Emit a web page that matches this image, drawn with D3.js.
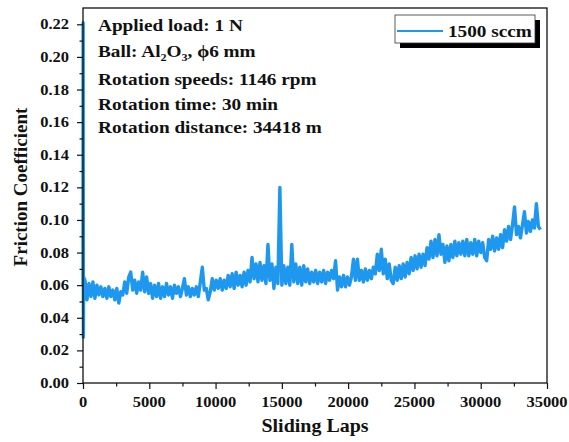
<!DOCTYPE html>
<html><head><meta charset="utf-8">
<script src="https://cdn.jsdelivr.net/npm/d3@7"></script>
<style>body{margin:0;background:#fff}svg{display:block}text{font-family:"Liberation Serif","Times New Roman",serif;font-weight:bold;fill:#111}</style>
</head><body>
<svg id="c" width="569" height="442"></svg>
<script>
const laps = [0,10,30,50,
150,300,450,600,750,900,1050,1200,1350,1500,
1650,1800,1950,2100,2250,2400,2550,2700,2850,3000,
3150,3300,3450,3600,3750,3900,4050,4200,4350,4500,
4650,4800,4950,5100,5250,5400,5550,5700,5850,6000,
6150,6300,6450,6600,6750,6900,7050,7200,7350,7500,
7650,7800,7950,8100,8250,8400,8550,8700,8850,9000,
9150,9300,9450,9600,9750,9900,10050,10200,10350,10500,
10650,10800,10950,11100,11250,11400,11550,11700,11850,12000,
12150,12300,12450,12600,12750,12900,13050,13200,13350,13500,
13650,13800,13950,14100,14250,14400,14550,14700,14850,15000,
15150,15300,15450,15600,15750,15900,16050,16200,16350,16500,
16650,16800,16950,17100,17250,17400,17550,17700,17850,18000,
18150,18300,18450,18600,18750,18900,19050,19200,19350,19500,
19650,19800,19950,20100,20250,20400,20550,20700,20850,21000,
21150,21300,21450,21600,21750,21900,22050,22200,22350,22500,
22650,22800,22950,23100,23250,23400,23550,23700,23850,24000,
24150,24300,24450,24600,24750,24900,25050,25200,25350,25500,
25650,25800,25950,26100,26250,26400,26550,26700,26850,27000,
27150,27300,27450,27600,27750,27900,28050,28200,28350,28500,
28650,28800,28950,29100,29250,29400,29550,29700,29850,30000,
30150,30300,30450,30600,30750,30900,31050,31200,31350,31500,
31650,31800,31950,32100,32250,32400,32550,32700,32850,33000,
33150,33300,33450,33600,33750,33900,34050,34200,34350,34500];
const cof = [0.060,0.221,0.028,0.065,
0.063,0.051,0.061,0.053,0.062,0.052,0.060,0.054,0.059,0.053,
0.058,0.052,0.059,0.053,0.057,0.051,0.058,0.049,0.056,0.054,
0.062,0.055,0.065,0.068,0.057,0.063,0.055,0.062,0.057,0.068,
0.056,0.065,0.055,0.061,0.052,0.060,0.053,0.061,0.052,0.059,
0.053,0.061,0.054,0.059,0.052,0.060,0.055,0.059,0.053,0.058,
0.064,0.054,0.059,0.053,0.058,0.054,0.059,0.053,0.062,0.071,
0.057,0.058,0.051,0.056,0.064,0.057,0.063,0.058,0.064,0.057,
0.063,0.058,0.066,0.059,0.067,0.058,0.068,0.060,0.066,0.059,
0.068,0.060,0.069,0.062,0.077,0.064,0.073,0.062,0.074,0.063,
0.072,0.061,0.085,0.063,0.073,0.058,0.071,0.061,0.120,0.060,
0.072,0.061,0.071,0.060,0.085,0.062,0.073,0.061,0.071,0.060,
0.072,0.062,0.070,0.061,0.068,0.062,0.069,0.061,0.068,0.062,
0.069,0.061,0.068,0.063,0.069,0.064,0.075,0.057,0.065,0.059,
0.066,0.059,0.065,0.060,0.065,0.076,0.063,0.076,0.063,0.069,
0.062,0.070,0.063,0.069,0.064,0.071,0.067,0.079,0.069,0.082,
0.067,0.076,0.064,0.073,0.063,0.061,0.071,0.063,0.072,0.064,
0.073,0.065,0.074,0.067,0.077,0.069,0.078,0.070,0.079,0.071,
0.079,0.072,0.083,0.076,0.087,0.077,0.088,0.078,0.091,0.079,
0.085,0.074,0.084,0.075,0.085,0.077,0.087,0.078,0.086,0.079,
0.087,0.078,0.088,0.078,0.086,0.079,0.088,0.078,0.087,0.080,
0.086,0.077,0.075,0.088,0.082,0.090,0.081,0.089,0.082,0.091,
0.083,0.094,0.087,0.096,0.088,0.097,0.108,0.091,0.096,0.089,
0.097,0.105,0.092,0.099,0.093,0.100,0.095,0.110,0.096,0.094];
const yTicks = [0,0.02,0.04,0.06,0.08,0.10,0.12,0.14,0.16,0.18,0.20,0.22];
const xTicks = [0,5000,10000,15000,20000,25000,30000,35000];
const notes = ["Applied load: 1 N","Ball: Al2O3, ϕ6 mm","Rotation speeds: 1146 rpm","Rotation time: 30 min","Rotation distance: 34418 m"];
const seriesName = "1500 sccm";

const svg = d3.select("#c");
const L=83,R=547,T=8,B=383, SX=1.1;
const x = d3.scaleLinear().domain([0,35000]).range([L,R]);
const y = d3.scaleLinear().domain([0,0.23]).range([B,T]);
const color = "#1e98ef";

// data line
const line = d3.line().x((d,i)=>x(laps[i])).y(d=>y(d));
svg.append("path").datum(cof).attr("d",line).attr("fill","none")
  .attr("stroke",color).attr("stroke-width",3.4).attr("stroke-linejoin","round");

// axes
const ax = svg.append("g").attr("transform",`translate(0,${B})`)
  .call(d3.axisBottom(x).tickValues(xTicks).tickSize(6).tickFormat(""));
const axm = svg.append("g").attr("transform",`translate(0,${B})`)
  .call(d3.axisBottom(x).tickValues(d3.range(2500,35000,5000)).tickSize(3.5).tickFormat(""));
const ay = svg.append("g").attr("transform",`translate(${L},0)`)
  .call(d3.axisLeft(y).tickValues(yTicks).tickSize(6).tickFormat(""));
const aym = svg.append("g").attr("transform",`translate(${L},0)`)
  .call(d3.axisLeft(y).tickValues(d3.range(0.01,0.225,0.02)).tickSize(3.5).tickFormat(""));
[ax,axm,ay,aym].forEach(g=>{g.selectAll("path").remove();g.selectAll("line").attr("stroke","#111").attr("stroke-width",1.2);});

// frame
svg.append("rect").attr("x",L).attr("y",T).attr("width",R-L).attr("height",B-T)
  .attr("fill","none").attr("stroke","#111").attr("stroke-width",1.3);

// tick labels
xTicks.forEach(v=>{
  svg.append("text").attr("transform",`translate(${x(v)},407) scale(${SX},1)`)
    .attr("text-anchor","middle").style("font-size","15px").text(v);
});
yTicks.forEach(v=>{
  svg.append("text").attr("transform",`translate(69,${y(v)+5}) scale(${SX},1)`)
    .attr("text-anchor","end").style("font-size","15px").text(d3.format(".2f")(v));
});

// axis titles
svg.append("text").attr("transform",`translate(315,432) scale(1.08,1)`)
  .attr("text-anchor","middle").style("font-size","18.5px").text("Sliding Laps");
svg.append("text").attr("transform",`translate(27,187) rotate(-90)`)
  .attr("text-anchor","middle").style("font-size","19px").text("Friction Coefficient");

// annotations
const base=[31,57,85,110,133];
notes.forEach((t,i)=>{
  const tx = svg.append("text").attr("transform",`translate(98,${base[i]}) scale(${SX},1)`).style("font-size","17.5px");
  if(t.includes("Al2O3")){
    tx.append("tspan").text("Ball: Al");
    tx.append("tspan").attr("dy",4).style("font-size","11px").text("2");
    tx.append("tspan").attr("dy",-4).text("O");
    tx.append("tspan").attr("dy",4).style("font-size","11px").text("3");
    tx.append("tspan").attr("dy",-4).text(", ϕ6 mm");
  } else tx.text(t);
});

// legend
const lg = svg.append("g");
lg.append("rect").attr("x",400).attr("y",20).attr("width",140).attr("height",28).attr("fill","#000");
lg.append("rect").attr("x",395).attr("y",15).attr("width",140).attr("height",28).attr("fill","#fff").attr("stroke","#333").attr("stroke-width",0.8);
lg.append("line").attr("x1",397).attr("x2",443).attr("y1",31).attr("y2",31).attr("stroke",color).attr("stroke-width",2);
lg.append("text").attr("transform",`translate(448,37) scale(${SX},1)`).style("font-size","17.5px").text(seriesName);
</script>
</body></html>
